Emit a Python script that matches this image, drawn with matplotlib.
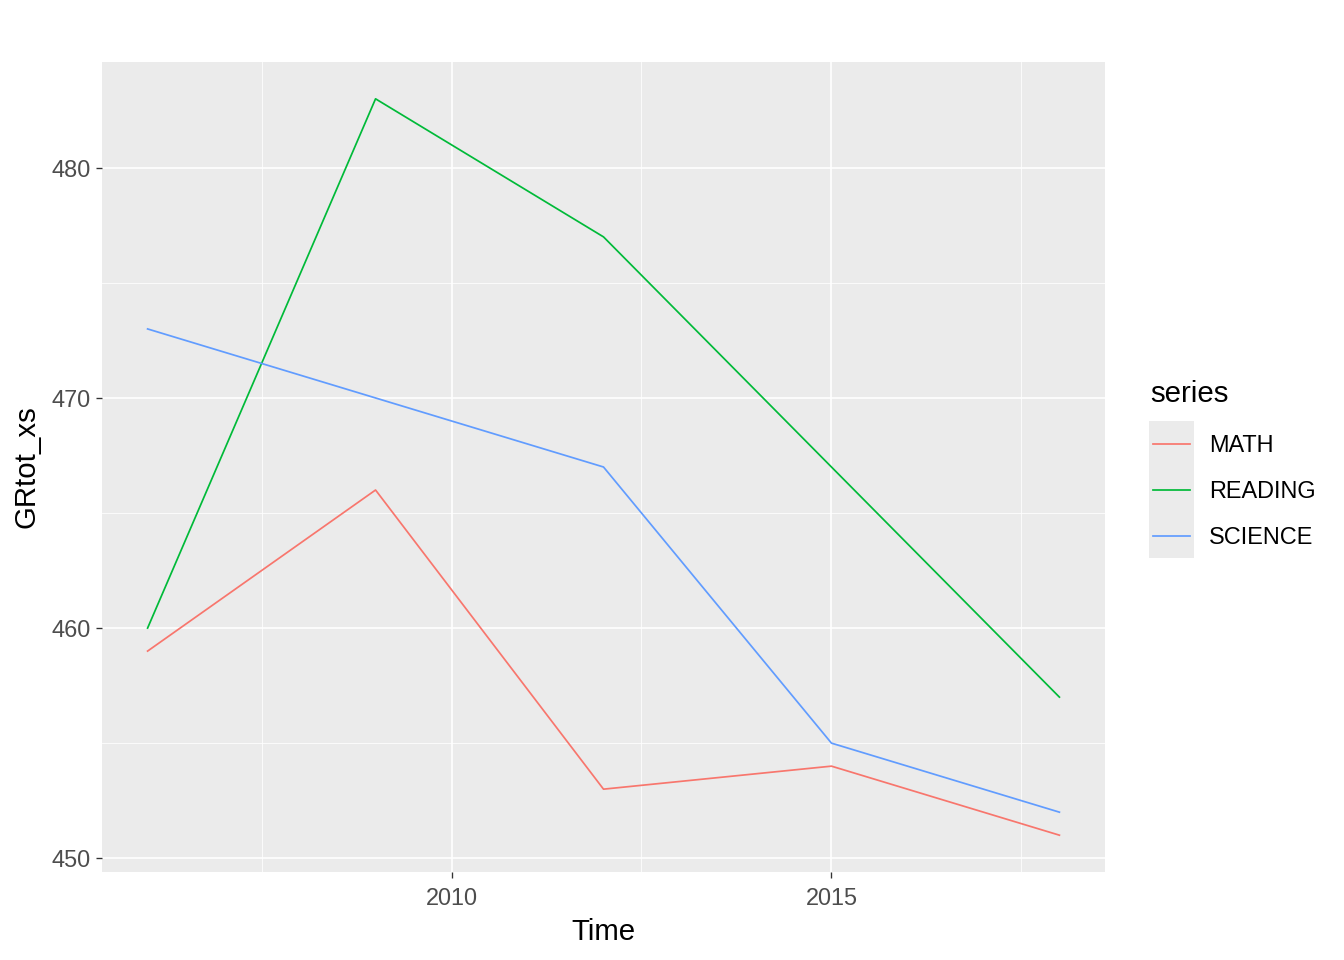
import matplotlib
matplotlib.use('Agg')
import matplotlib.pyplot as plt
from matplotlib.patches import Rectangle
from matplotlib.lines import Line2D

plt.rcParams['font.family'] = ['Liberation Sans', 'DejaVu Sans']

years = [2006, 2009, 2012, 2015, 2018]
series_names = ['MATH', 'READING', 'SCIENCE']
math = [459, 466, 453, 454, 451]
reading = [460, 483, 477, 467, 457]
science = [473, 470, 467, 455, 452]
colors = ['#F8766D', '#00BA38', '#619CFF']

W, H = 1344, 960
fig = plt.figure(figsize=(7, 5), dpi=192)
ax = fig.add_axes([102 / W, 1 - 872 / H, (1105 - 102) / W, (872 - 62) / H])
ax.set_facecolor('#EBEBEB')
for s in ax.spines.values():
    s.set_visible(False)

# grid like ggplot theme_gray
ax.set_xticks([2010, 2015])
ax.set_yticks([450, 460, 470, 480])
ax.set_xticks([2007.5, 2012.5, 2017.5], minor=True)
ax.set_yticks([455, 465, 475], minor=True)
ax.grid(which='major', color='white', linewidth=0.6)
ax.grid(which='minor', color='white', linewidth=0.3)
ax.set_axisbelow(True)
ax.tick_params(which='major', length=2.2, width=0.5, color='#333333',
               labelsize=8.8, labelcolor='#4D4D4D', pad=2)
ax.tick_params(axis='x', which='major', pad=3.5)
ax.tick_params(which='minor', length=0)

for vals, c in zip([math, reading, science], colors):
    ax.plot(years, vals, color=c, linewidth=0.65)

ax.set_xlim(2005.4, 2018.6)
ax.set_ylim(449.4, 484.6)
ax.set_xlabel('Time', fontsize=11, labelpad=3)
ax.set_ylabel('GRtot_xs', fontsize=11, labelpad=4)

# legend drawn by hand (ggplot style keys)
fig.text(1150 / W, 1 - 394 / H, 'series', fontsize=11, va='center', ha='left')
fig.patches.append(Rectangle((1149 / W, 1 - 558 / H), 45 / W, 137 / H,
                             transform=fig.transFigure, facecolor='#EBEBEB',
                             edgecolor='none'))
for i, (name, c) in enumerate(zip(series_names, colors)):
    yy = 1 - (444 + 46 * i) / H
    fig.lines.append(Line2D([1153 / W, 1190 / W], [yy, yy], color=c,
                            linewidth=0.65, transform=fig.transFigure))
    fig.text(1209 / W, yy - 2 / H, name, fontsize=8.8, va='center', ha='left')

fig.savefig('out.png', dpi=192)
